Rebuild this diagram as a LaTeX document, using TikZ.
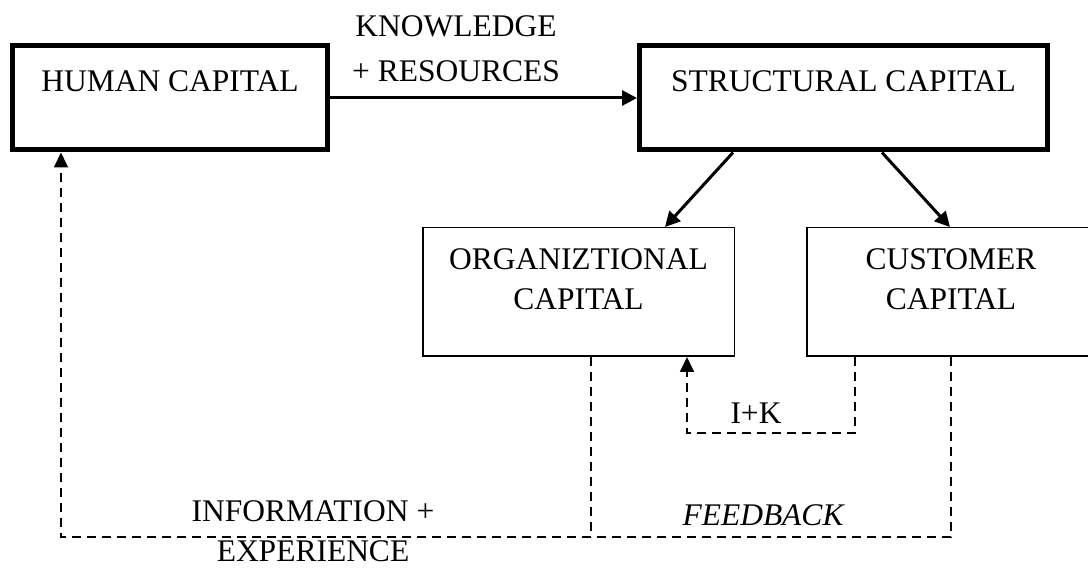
\documentclass[tikz,border=0pt]{standalone}
\usepackage{fontspec}
\setmainfont{Liberation Serif}
\usetikzlibrary{arrows.meta,calc}
\begin{document}
\begin{tikzpicture}[x=1pt,y=-1pt,
  txt/.style={font=\fontsize{31.5}{40}\selectfont, inner sep=0pt, align=center},
  thickbox/.style={draw, line width=5pt, minimum height=104pt, inner sep=0pt},
  thinbox/.style={draw, line width=1.5pt, minimum height=128.5pt, inner sep=0pt},
  solidarrow/.style={line width=3pt, -{Triangle[length=15pt,width=15pt]}},
  dashline/.style={line width=1.8pt, dash pattern=on 9pt off 6pt},
  dasharrow/.style={dashline, -{Triangle[length=15pt,width=14pt]}}
]
\useasboundingbox (0,0) rectangle (1088,569);
\clip (0,0) rectangle (1088,569);

% boxes
\node[thickbox, minimum width=315pt] (human) at (170,98) {};
\node[thickbox, minimum width=408pt] (struct) at (843.5,98) {};
\node[thinbox, minimum width=311.5pt] (org) at (578.5,292) {};
\node[thinbox, minimum width=288pt] (cust) at (951,292) {};

% box texts
\node[txt, anchor=base] (humant) at (170,92) {HUMAN CAPITAL};
\node[txt, anchor=base] (structt) at (843.5,92) {STRUCTURAL CAPITAL};
\node[txt] (orgt) at (578.5,279) {ORGANIZTIONAL\\CAPITAL};
\node[txt] (custt) at (951,279) {CUSTOMER\\CAPITAL};

% labels
\node[txt, font=\fontsize{31.5}{45}\selectfont] (know) at (456,49) {KNOWLEDGE\\+ RESOURCES};
\node[txt, anchor=base] (ik) at (756,424) {I+K};
\node[txt, font=\fontsize{31.5}{40}\selectfont] (info) at (313,531.5) {INFORMATION +\\EXPERIENCE};
\node[txt, anchor=base, font=\fontsize{31.5}{40}\selectfont\itshape] (feed) at (763,525) {FEEDBACK};

% coordinates
\coordinate (bl) at (61,537);
\coordinate (ikc) at (687,433);

% solid arrows
\draw[solidarrow] (human.east) -- (struct.west);
\draw[solidarrow] ([xshift=-110.5pt]struct.south) -- ([xshift=86.5pt]org.north);
\draw[solidarrow] ([xshift=38.5pt]struct.south) -- ([xshift=-1pt]cust.north);

% dashed connectors
\draw[dasharrow] (cust.south) |- (bl) -- ([xshift=-109pt]human.south);
\draw[dashline] ([xshift=12.5pt]org.south) -- ([xshift=12.5pt]org.south |- bl);
\draw[dasharrow] ([xshift=-96pt]cust.south) |- (ikc) -- ([xshift=108.5pt]org.south);
\end{tikzpicture}
\end{document}
